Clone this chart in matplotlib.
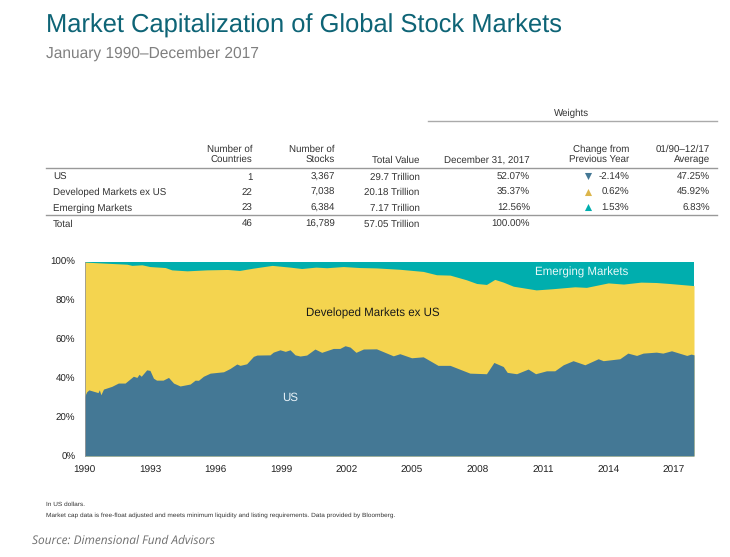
import numpy as np
import matplotlib
matplotlib.use('Agg')
import matplotlib.pyplot as plt

W, H = 730, 557

# US share of market cap (%)
us_years = [0, 0.1, 0.2, 0.5, 0.62, 0.68, 0.75, 0.87, 1.25, 1.55, 1.86, 2.24, 2.4, 2.5, 2.6, 2.85, 3.0, 3.16, 3.3, 3.6,
            3.85, 4.08, 4.38, 4.84, 5.07, 5.22, 5.45, 5.76, 6.37, 6.67, 6.98, 7.13, 7.43, 7.74, 7.9, 8.5, 8.65, 8.96,
            9.2, 9.42, 9.65, 9.88, 10.18, 10.56, 10.87, 11.4, 11.7, 11.94, 12.17, 12.44, 12.78, 13.38, 14.15, 14.45,
            14.99, 15.52, 16.2, 16.75, 17.66, 18.42, 18.76, 19.19, 19.37, 19.8, 20.33, 20.67, 21.17, 21.55, 21.94,
            22.39, 22.93, 23.54, 23.77, 24.53, 24.9, 25.3, 25.6, 26.2, 26.5, 26.9, 27.6, 27.8, 27.93]
us_share = [30.6, 33, 34, 33, 32.6, 34, 31.5, 34.4, 35.8, 37.5, 37.5, 41, 40.4, 42, 41, 44.3, 44, 40, 39, 39,
            40.4, 37.5, 36, 37, 39, 38.9, 41, 42.6, 43.3, 45, 47.3, 46.6, 47.4, 51.2, 51.9, 52, 53.4, 54.6,
            53.8, 54.6, 52, 51.4, 51.9, 55, 53.3, 55.3, 55.3, 56.7, 56, 53.3, 55, 55.1, 51.5, 52.6,
            50.5, 51, 46.6, 46.6, 42.6, 42.3, 48.1, 46, 43, 42.3, 44.7, 42.3, 43.8, 43.8, 46.9,
            49, 46.9, 50, 49, 50, 52.9, 51.7, 52.9, 53.4, 52.9, 54.1, 51.7, 52.4, 52]

# top edge of developed ex US = US + developed (%)
dev_years = [0, 1.03, 1.95, 2.17, 2.63, 3.0, 3.7, 4.0, 4.7, 5.6, 6.55, 7.1, 7.74, 8.6, 9.42, 9.95, 10.6, 11.1,
             11.86, 12.6, 13.38, 14.45, 15.52, 16.13, 16.75, 17.5, 17.97, 18.42, 18.8, 19.19, 19.65, 20.7, 21.45,
             22.47, 23.0, 24.0, 24.7, 25.5, 26.2, 26.8, 27.93]
dev_top = [99.7, 99.1, 98.6, 98, 98.3, 97.4, 96.9, 95.7, 95.2, 95.7, 95.9, 95.4, 96.6, 98, 97.1, 96.4, 97.1, 96.8,
           97.4, 96.9, 96.7, 96, 94.9, 93.2, 93, 90.6, 88.7, 88.2, 90.8, 89.4, 87.3, 85.4, 86,
           87, 86.7, 89, 88.4, 89.4, 89.2, 88.7, 87.6]

start_year = 1990
xtick_years = [1990, 1993, 1996, 1999, 2002, 2005, 2008, 2011, 2014, 2017]
ytick_vals = [0, 20, 40, 60, 80, 100]

# table
row_names = ['US', 'Developed Markets ex US', 'Emerging Markets', 'Total']
countries = ['1', '22', '23', '46']
stocks = ['3,367', '7,038', '6,384', '16,789']
total_value = ['29.7 Trillion', '20.18 Trillion', '7.17 Trillion', '57.05 Trillion']
weights = ['52.07%', '35.37%', '12.56%', '100.00%']
change = ['-2.14%', '0.62%', '1.53%']
average = ['47.25%', '45.92%', '6.83%']

us_color = '#447895'
dev_color = '#f4d44f'
em_color = '#00aeae'
text_color = '#333333'

plt.rcParams['font.family'] = 'Liberation Sans'
plt.rcParams['text.hinting'] = 'none'

fig = plt.figure(figsize=(W / 100, H / 100), dpi=100)

# overlay in image pixels for the text and table
page = fig.add_axes([0, 0, 1, 1])
page.set_xlim(0, W)
page.set_ylim(H, 0)
page.axis('off')


def txt(x, y, s, size=7.0, ha='right', color=text_color, **kw):
    # y is the middle of the digits, so commas and descenders do not move the line
    page.text(x, y + size * 0.5, s, fontsize=size, ha=ha, va='baseline', color=color, **kw)


txt(46, 23, 'Market Capitalization of Global Stock Markets', size=18.4, ha='left', color='#0e6476')
txt(46, 52, 'January 1990\u2013December 2017', size=11.2, ha='left', color='#808080')

# table header
txt(572, 112, 'Weights', ha='center')
page.plot([428, 717], [121, 121], color='#aaaaaa', lw=1)
txt(252.5, 148, 'Number of')
txt(252.5, 158.5, 'Countries')
txt(335, 148, 'Number of')
txt(335, 158.5, 'Stocks')
txt(419.5, 159, 'Total Value')
txt(530, 159, 'December 31, 2017')
txt(629, 148, 'Change from')
txt(629, 158.5, 'Previous Year')
txt(710, 148, '01/90\u201312/17')
txt(710, 158.5, 'Average')
page.plot([46, 717], [168, 168], color='#999999', lw=1)
page.plot([46, 717], [215, 215], color='#999999', lw=1)

row_y = [176, 191.5, 207, 223]
for i, name in enumerate(row_names):
    y = row_y[i]
    txt(53, y, name, ha='left')
    txt(252.5, y, countries[i])
    txt(335, y, stocks[i])
    txt(419.5, y, total_value[i])
    txt(530, y, weights[i])
    if i < 3:
        txt(629, y, change[i])
        txt(710, y, average[i])

page.scatter([588], [row_y[0]], marker='v', s=26, color=us_color, lw=0)
page.scatter([588], [row_y[1]], marker='^', s=26, color='#dcb54a', lw=0)
page.scatter([588], [row_y[2]], marker='^', s=26, color=em_color, lw=0)

# chart
ax = fig.add_axes([84.5 / W, 1 - 456 / H, (694 - 84.5) / W, (456 - 261.5) / H])
us_x = [start_year + t for t in us_years]
dev_x = [start_year + t for t in dev_years]
ax.fill_between([us_x[0], us_x[-1]], 0, 100, color=em_color, lw=0)
ax.fill_between(dev_x, 0, dev_top, color=dev_color, lw=0)
ax.fill_between(us_x, 0, us_share, color=us_color, lw=0)
ax.set_xlim(start_year, start_year + 27.93)
ax.set_ylim(0, 100)
ax.set_xticks(xtick_years)
ax.set_xticklabels([str(v) for v in xtick_years], fontsize=7.2, color='#222222')
ax.set_yticks(ytick_vals)
ax.set_yticklabels(['%d%%' % v for v in ytick_vals], fontsize=7.0, color='#222222')
ax.tick_params(axis='x', length=0, pad=6.7)
ax.tick_params(axis='y', length=0, pad=6.5)
for side in ['top', 'right', 'bottom']:
    ax.spines[side].set_visible(False)
ax.spines['left'].set_color('#999999')
ax.spines['left'].set_linewidth(0.6)
ax.set_zorder(1)

# area labels
label_layer = fig.add_axes([0, 0, 1, 1], zorder=2)
label_layer.set_xlim(0, W)
label_layer.set_ylim(H, 0)
label_layer.axis('off')
label_layer.text(582, 272, 'Emerging Markets', fontsize=8.3, ha='center', va='center', color='#e8f8f8')
label_layer.text(373, 313.5, 'Developed Markets ex US', fontsize=8.3, ha='center', va='center', color='#1a1a1a')
label_layer.text(290.5, 397.5, 'US', fontsize=8.3, ha='center', va='center', color='#e8f2f8')

# notes
txt(46, 504, 'In US dollars.', size=4.66, ha='left')
txt(46, 514, 'Market cap data is free-float adjusted and meets minimum liquidity and listing requirements. '
             'Data provided by Bloomberg.', size=4.66, ha='left')
page.text(32, 540.5, 'Source: Dimensional Fund Advisors', fontsize=8.6, ha='left', va='center',
          color='#707070', style='italic', family='Open Sans')

fig.savefig('out.png', dpi=100)
